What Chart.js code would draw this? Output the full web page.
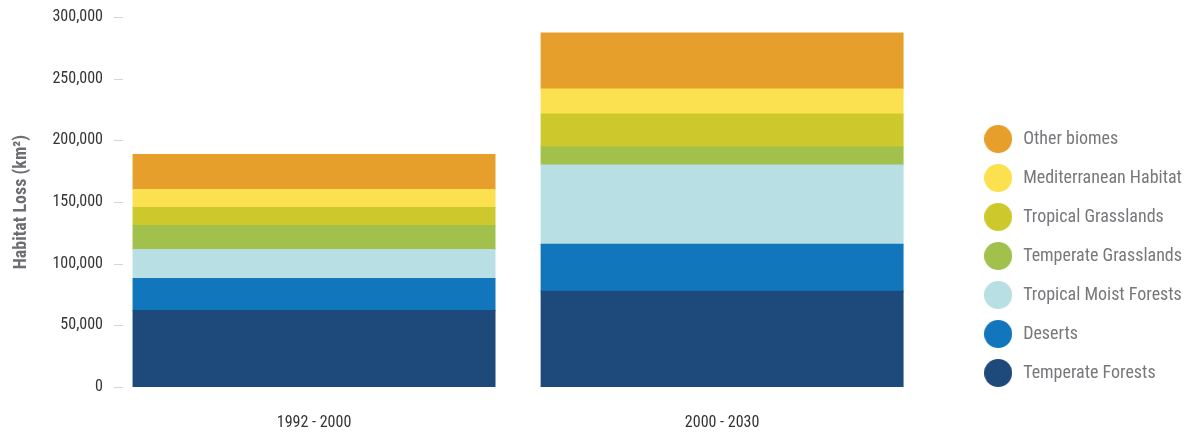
<!DOCTYPE html>
<html lang="en">
<head>
<meta charset="UTF-8">
<title>Habitat Loss by Biome</title>
<script src="https://cdn.jsdelivr.net/npm/chart.js@4.4.0/dist/chart.umd.min.js"></script>
<style>
  html, body { margin: 0; padding: 0; background: #fff; }
  #wrap { width: 1193px; height: 435px; }
</style>
</head>
<body>
<div id="wrap"><canvas id="chart"></canvas></div>
<script>
// values (km2), stacked bottom to top
const periods = ['1992 - 2000', '2000 - 2030'];
const temperateForests = [62000, 77700];
const deserts = [26000, 38100];
const tropicalMoistForests = [23500, 64100];
const temperateGrasslands = [19500, 14600];
const tropicalGrasslands = [14600, 26800];
const mediterraneanHabitat = [14600, 20300];
const otherBiomes = [28400, 45400];

Chart.defaults.font.family = "'Roboto Condensed', Roboto, sans-serif";

// round legend marker
function dot(color) {
    const c = document.createElement('canvas');
    c.width = 28;
    c.height = 28;
    const g = c.getContext('2d');
    g.fillStyle = color;
    g.beginPath();
    g.arc(14, 14, 14, 0, Math.PI * 2);
    g.fill();
    return c;
}

function series(label, data, color) {
    return {
        label: label,
        data: data,
        backgroundColor: color,
        pointStyle: dot(color),
        borderWidth: 0,
        inflateAmount: 0.5,
        categoryPercentage: 1,
        barPercentage: 0.887
    };
}

// short grey dashes next to the y labels
const tickDashes = {
    id: 'tickDashes',
    beforeDatasetsDraw(chart) {
        const y = chart.scales.y;
        const left = chart.chartArea.left;
        const ctx = chart.ctx;
        ctx.save();
        ctx.strokeStyle = '#d4d4d4';
        ctx.lineWidth = 1;
        y.ticks.forEach(t => {
            const py = Math.round(y.getPixelForValue(t.value)) + 0.5;
            ctx.beginPath();
            ctx.moveTo(left + 4, py);
            ctx.lineTo(left + 13, py);
            ctx.stroke();
        });
        ctx.restore();
    }
};

const ctx = document.getElementById('chart').getContext('2d');
new Chart(ctx, {
    type: 'bar',
    data: {
        labels: periods,
        datasets: [
            series('Temperate Forests', temperateForests, '#1e4a7b'),
            series('Deserts', deserts, '#1276bc'),
            series('Tropical Moist Forests', tropicalMoistForests, '#b8dfe3'),
            series('Temperate Grasslands', temperateGrasslands, '#a1c14c'),
            series('Tropical Grasslands', tropicalGrasslands, '#cdc92c'),
            series('Mediterranean Habitat', mediterraneanHabitat, '#fbe14f'),
            series('Other biomes', otherBiomes, '#e69f2b')
        ]
    },
    options: {
        responsive: true,
        maintainAspectRatio: false,
        animation: false,
        layout: { padding: { top: 17, right: 1, bottom: 0, left: 0 } },
        plugins: {
            tooltip: { enabled: false },
            legend: {
                position: 'right',
                align: 'start',
                reverse: true,
                maxWidth: 300,
                // blank title only pushes the items down
                title: { display: true, text: '', padding: { top: 80, bottom: 0 }, font: { size: 10 } },
                labels: {
                    usePointStyle: true,
                    pointStyleWidth: 32,
                    boxHeight: 18,
                    padding: 21,
                    color: '#77787b',
                    font: { size: 18 }
                }
            }
        },
        scales: {
            x: {
                stacked: true,
                grid: { display: false, drawTicks: false },
                border: { display: false },
                ticks: { color: '#333', padding: 26, font: { size: 16 } },
                afterFit: s => { s.height = 48; }
            },
            y: {
                stacked: true,
                min: 0,
                max: 300000,
                grid: { display: false, drawTicks: false },
                border: { display: false },
                ticks: {
                    stepSize: 50000,
                    padding: 7,
                    color: '#333',
                    font: { size: 16 },
                    callback: v => v.toLocaleString('en-US')
                },
                title: {
                    display: true,
                    text: 'Habitat Loss (km²)',
                    color: '#6d6e71',
                    padding: { top: 11, bottom: 0 },
                    font: { size: 18, weight: 'bold' }
                },
                afterFit: s => { s.width = 110; }
            },
            // empty axis: gap between bars and legend
            gap: {
                position: 'right',
                display: true,
                grid: { display: false, drawTicks: false },
                border: { display: false },
                ticks: { display: false },
                afterFit: s => { s.width = 35; }
            }
        }
    },
    plugins: [tickDashes]
});
</script>
</body>
</html>
